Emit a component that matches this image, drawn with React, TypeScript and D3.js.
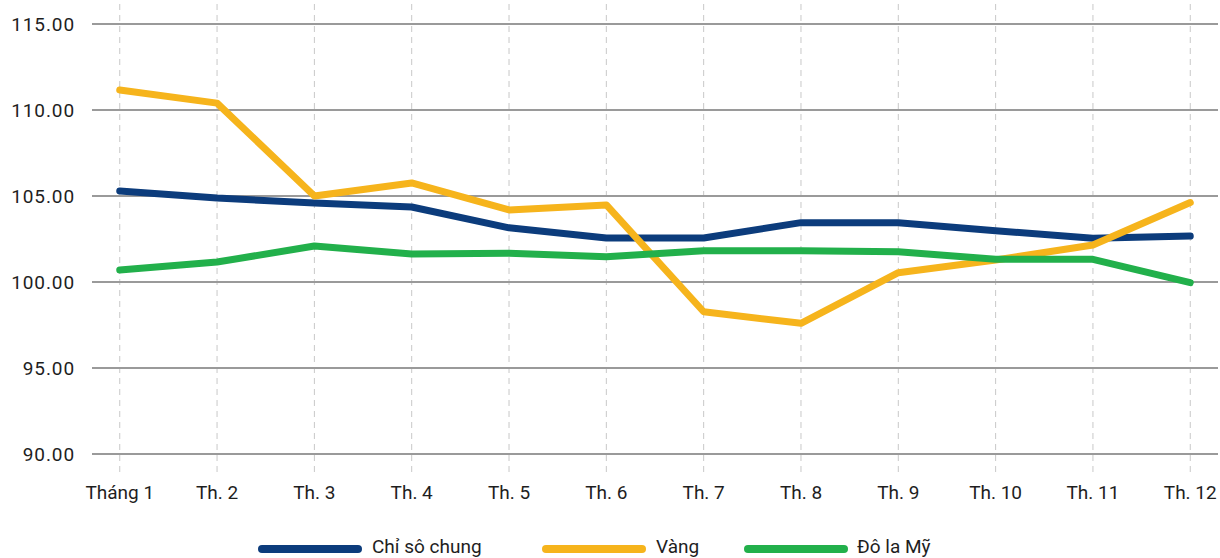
import React from "react";
import * as d3 from "d3";

const months = ["Tháng 1", "Th. 2", "Th. 3", "Th. 4", "Th. 5", "Th. 6", "Th. 7", "Th. 8", "Th. 9", "Th. 10", "Th. 11", "Th. 12"];
const chiSoChung = [105.29, 104.88, 104.6, 104.36, 103.15, 102.56, 102.56, 103.45, 103.45, 102.98, 102.54, 102.67];
const vang = [111.16, 110.4, 105.0, 105.76, 104.19, 104.48, 98.27, 97.6, 100.54, 101.28, 102.15, 104.62];
const doLaMy = [100.7, 101.16, 102.09, 101.63, 101.67, 101.47, 101.82, 101.82, 101.76, 101.32, 101.32, 99.96];
const yTicks = [90, 95, 100, 105, 110, 115];

const series = [
  { name: "Chỉ sô chung", values: chiSoChung, color: "#0c3c7c" },
  { name: "Vàng", values: vang, color: "#f6b41c" },
  { name: "Đô la Mỹ", values: doLaMy, color: "#22b04b" },
];

const W = 1220;
const H = 558;
const gridLeft = 92;
const gridRight = 1218;
const yTop = 24;
const yBottom = 454;

export default function App() {
  const x = d3.scalePoint<string>().domain(months).range([gridLeft, gridRight]).padding(0.285);
  const y = d3.scaleLinear().domain([90, 115]).range([yBottom, yTop]);
  const line = d3
    .line<number>()
    .x((_, i) => x(months[i]) as number)
    .y((d) => y(d));

  const legendItems = [
    { lineX: 262, textX: 372 },
    { lineX: 546, textX: 656 },
    { lineX: 748, textX: 857 },
  ];

  return (
    <svg
      width={W}
      height={H}
      style={{ position: "absolute", left: 0, top: 0, background: "#fff" }}
      fontFamily="Roboto, 'Noto Sans', sans-serif"
    >
      {months.map((m) => (
        <line
          key={"v" + m}
          x1={x(m)}
          x2={x(m)}
          y1={4}
          y2={472}
          stroke="#c8c8c8"
          strokeWidth={1}
          strokeDasharray="6 5"
        />
      ))}
      {yTicks.map((t) => (
        <g key={"y" + t}>
          <line x1={gridLeft} x2={gridRight} y1={y(t)} y2={y(t)} stroke="#9a9a9a" strokeWidth={2} />
          <text
            x={75}
            y={y(t)}
            dy="0.36em"
            textAnchor="end"
            fontSize={19}
            letterSpacing={0.9}
            fill="#1e1e1e"
          >
            {t.toFixed(2)}
          </text>
        </g>
      ))}
      {months.map((m) => (
        <text key={"x" + m} x={x(m)} y={499} textAnchor="middle" fontSize={19} fill="#1e1e1e">
          {m}
        </text>
      ))}
      {series.map((s) => (
        <path
          key={s.name}
          d={line(s.values) || ""}
          fill="none"
          stroke={s.color}
          strokeWidth={7}
          strokeLinejoin="round"
          strokeLinecap="round"
        />
      ))}
      {series.map((s, i) => (
        <g key={"lg" + s.name}>
          <line
            x1={legendItems[i].lineX}
            x2={legendItems[i].lineX + 96}
            y1={549}
            y2={549}
            stroke={s.color}
            strokeWidth={8}
            strokeLinecap="round"
          />
          <text x={legendItems[i].textX} y={553} fontSize={19} fill="#1e1e1e">
            {s.name}
          </text>
        </g>
      ))}
    </svg>
  );
}
